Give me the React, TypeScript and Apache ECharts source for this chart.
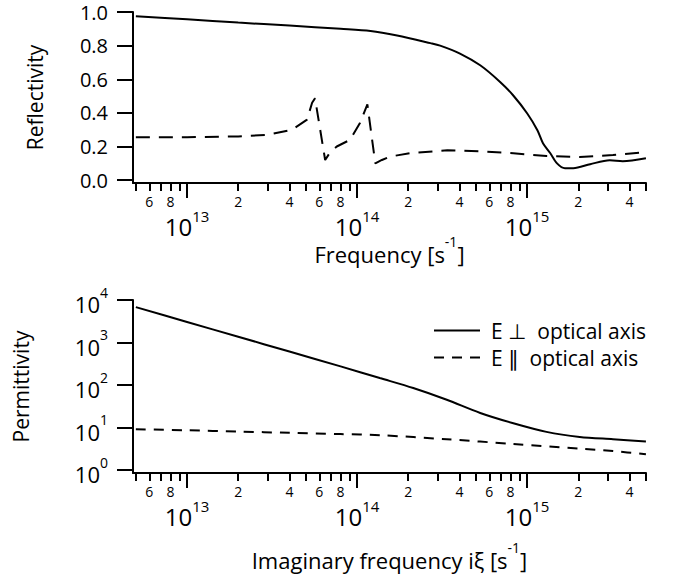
import React, { useEffect, useRef } from 'react';
import * as echarts from 'echarts';

// ---------- data ----------
const reflPerpFreq = [5e12, 1e13, 2e13, 4e13, 8e13, 1.2e14, 1.72e14, 2.7e14, 3.08e14, 4.03e14, 5.3e14, 6.94e14, 8.27e14, 1e15, 1.15e15, 1.24e15, 1.37e15, 1.5e15, 1.67e15, 1.87e15, 2.35e15, 3.06e15, 3.65e15, 5e15];
const reflPerp = [0.975, 0.957, 0.937, 0.919, 0.9, 0.887, 0.86, 0.815, 0.8, 0.753, 0.683, 0.584, 0.505, 0.398, 0.297, 0.22, 0.16, 0.1, 0.071, 0.071, 0.095, 0.118, 0.113, 0.13];

const reflParFreq = [5e12, 1e13, 2e13, 3e13, 4.15e13, 5.08e13, 5.44e13, 5.66e13, 6.49e13, 6.94e13, 7.6e13, 9.1e13, 1.04e14, 1.15e14, 1.28e14, 1.4e14, 1.56e14, 2.05e14, 3.4e14, 5.3e14, 8.3e14, 1.3e15, 2.04e15, 3.2e15, 5e15];
const reflPar = [0.255, 0.255, 0.26, 0.27, 0.3, 0.36, 0.46, 0.487, 0.12, 0.165, 0.2, 0.24, 0.34, 0.45, 0.1, 0.12, 0.14, 0.16, 0.178, 0.172, 0.16, 0.143, 0.138, 0.149, 0.166];

const permPerpFreq = [5e12, 1e13, 2e13, 4e13, 8e13, 1.36e14, 2.14e14, 3.37e14, 5.3e14, 8.3e14, 1.3e15, 2.04e15, 3.2e15, 5e15];
const permPerp = [6840, 3060, 1370, 614, 275, 146, 85, 45, 22, 12.6, 7.9, 6.0, 5.3, 4.7];

const permParFreq = [5e12, 1e13, 2e13, 4e13, 8e13, 1.36e14, 3.37e14, 8.3e14, 2.04e15, 3.2e15, 5e15];
const permPar = [9.1, 8.6, 8.05, 7.5, 7.0, 6.6, 5.3, 4.1, 3.2, 2.8, 2.34];

const minorTickValues = [5e12, 6e12, 7e12, 8e12, 9e12, 2e13, 3e13, 4e13, 5e13, 6e13, 7e13, 8e13, 9e13, 2e14, 3e14, 4e14, 5e14, 6e14, 7e14, 8e14, 9e14, 2e15, 3e15, 4e15, 5e15];
const minorLabelValues = [6e12, 8e12, 2e13, 4e13, 6e13, 8e13, 2e14, 4e14, 6e14, 8e14, 2e15, 4e15];
const decadeValues = [1e13, 1e14, 1e15];
const reflTicks = [0, 0.2, 0.4, 0.6, 0.8, 1.0];
const permTicks = [1, 10, 100, 1000, 10000];

const legendPerp = 'E \u22A5  optical axis';
const legendPar = 'E \u2225  optical axis';

// ---------- helpers ----------
const FONT = '"Open Sans", "DejaVu Sans", sans-serif';
const X_MIN = 4.81e12;
const X_MAX = 5.005e15;

const zip = (xs: number[], ys: number[]) => xs.map((x, i) => [x, ys[i]]);
const leadDigit = (v: number) => {
  const e = Math.floor(Math.log10(v) + 1e-9);
  return String(Math.round(v / Math.pow(10, e)));
};
const expOf = (v: number) => Math.round(Math.log10(v));

const supRich = (base: number, sup: number, baseLH: number, supLH: number) => ({
  b: { fontSize: base, lineHeight: baseLH, verticalAlign: 'bottom', fontFamily: FONT, color: '#000' },
  s: { fontSize: sup, lineHeight: supLH, verticalAlign: 'top', fontFamily: FONT, color: '#000' },
});

const titleRich = {
  t: { fontSize: 22, lineHeight: 22, verticalAlign: 'bottom', fontFamily: FONT, color: '#000' },
  u: { fontSize: 14, lineHeight: 31, verticalAlign: 'top', fontFamily: FONT, color: '#000' },
};

const blackLine = { color: '#000', width: 2 };

function makeXAxes(gridIndex: number, name: string, nameGap: number) {
  return [
    {
      type: 'log', gridIndex, min: X_MIN, max: X_MAX, position: 'bottom',
      axisLine: { show: true, onZero: false, lineStyle: blackLine },
      axisTick: { show: true, customValues: minorTickValues, length: 8, lineStyle: blackLine },
      axisLabel: {
        show: true, customValues: minorLabelValues, formatter: (v: number) => leadDigit(v),
        margin: 11, fontSize: 14, color: '#000', fontFamily: FONT,
      },
      splitLine: { show: false }, minorTick: { show: false }, minorSplitLine: { show: false },
    },
    {
      type: 'log', gridIndex, min: X_MIN, max: X_MAX, position: 'bottom',
      axisLine: { show: false, onZero: false },
      axisTick: { show: true, customValues: decadeValues, length: 15, lineStyle: blackLine },
      axisLabel: {
        show: true, customValues: decadeValues,
        formatter: (v: number) => `{b|10}{s|${expOf(v)}}`,
        rich: supRich(24, 15, 30, 15), margin: 25,
      },
      splitLine: { show: false },
      name, nameLocation: 'middle', nameGap, nameMoveOverlap: false,
      nameTextStyle: { rich: titleRich },
    },
  ];
}

export default function App() {
  const ref = useRef<HTMLDivElement>(null);
  useEffect(() => {
    if (!ref.current) return;
    const chart = echarts.init(ref.current, undefined, { renderer: 'svg' });
    const option: any = {
      animation: false,
      backgroundColor: '#fff',
      textStyle: { fontFamily: FONT, color: '#000' },
      grid: [
        { left: 133, right: 33, top: 12, height: 171, outerBoundsMode: 'none', containLabel: false },
        { left: 133, right: 33, top: 300, height: 173, outerBoundsMode: 'none', containLabel: false },
      ],
      xAxis: [
        ...makeXAxes(0, '{t|Frequency [s}{u|-1}{t|]}', 51),
        ...makeXAxes(1, '{t|Imaginary frequency i\u03BE [s}{u|-1}{t|]}', 67),
      ],
      yAxis: [
        {
          type: 'value', gridIndex: 0, min: -0.017, max: 1,
          axisLine: { show: true, onZero: false, lineStyle: blackLine },
          axisTick: { show: true, customValues: reflTicks, length: 16, lineStyle: blackLine },
          axisLabel: {
            customValues: reflTicks, formatter: (v: number) => v.toFixed(1),
            margin: 25, fontSize: 20, color: '#000', fontFamily: FONT,
          },
          splitLine: { show: false },
          name: 'Reflectivity', nameLocation: 'middle', nameGap: 88, nameMoveOverlap: false,
          nameTextStyle: { fontSize: 21, color: '#000', fontFamily: FONT },
        },
        {
          type: 'log', gridIndex: 1, min: 0.85, max: 10050,
          axisLine: { show: true, onZero: false, lineStyle: blackLine },
          axisTick: { show: true, customValues: permTicks, length: 16, lineStyle: blackLine },
          axisLabel: {
            customValues: permTicks, formatter: (v: number) => `{b|10}{s|${expOf(v)}}`,
            rich: supRich(22, 14, 30, 14), margin: 25, align: 'right',
          },
          splitLine: { show: false }, minorTick: { show: false },
          name: 'Permittivity', nameLocation: 'middle', nameGap: 102, nameMoveOverlap: false,
          nameTextStyle: { fontSize: 21, color: '#000', fontFamily: FONT },
        },
      ],
      legend: {
        show: true, orient: 'vertical', left: 433, top: 320, padding: 0,
        itemWidth: 46, itemHeight: 14, itemGap: 6,
        data: [legendPerp, legendPar],
        itemStyle: { opacity: 0, color: 'transparent', borderWidth: 0 },
        textStyle: { fontSize: 21, lineHeight: 20, color: '#000', fontFamily: FONT, padding: [0, 0, 0, 6] },
        selectedMode: false,
      },
      series: [
        {
          name: 'R perp', type: 'line', xAxisIndex: 0, yAxisIndex: 0, data: zip(reflPerpFreq, reflPerp),
          showSymbol: false, symbol: 'none', smooth: 0.3, lineStyle: { color: '#000', width: 2, type: 'solid' },
          itemStyle: { color: '#000' },
        },
        {
          name: 'R par', type: 'line', xAxisIndex: 0, yAxisIndex: 0, data: zip(reflParFreq, reflPar),
          showSymbol: false, symbol: 'none', smooth: false, lineStyle: { color: '#000', width: 2, type: [14, 9] },
          itemStyle: { color: '#000' },
        },
        {
          name: legendPerp, type: 'line', xAxisIndex: 2, yAxisIndex: 1, data: zip(permPerpFreq, permPerp),
          showSymbol: false, symbol: 'none', smooth: 0.3, lineStyle: { color: '#000', width: 2, type: 'solid' },
          itemStyle: { color: '#000' },
        },
        {
          name: legendPar, type: 'line', xAxisIndex: 2, yAxisIndex: 1, data: zip(permParFreq, permPar),
          showSymbol: false, symbol: 'none', smooth: 0.3, lineStyle: { color: '#000', width: 2, type: [10, 8] },
          itemStyle: { color: '#000' },
        },
      ],
    };
    chart.setOption(option);
    return () => chart.dispose();
  }, []);
  return <div ref={ref} style={{ position: 'fixed', left: 0, top: 0, width: 679, height: 580 }} />;
}
